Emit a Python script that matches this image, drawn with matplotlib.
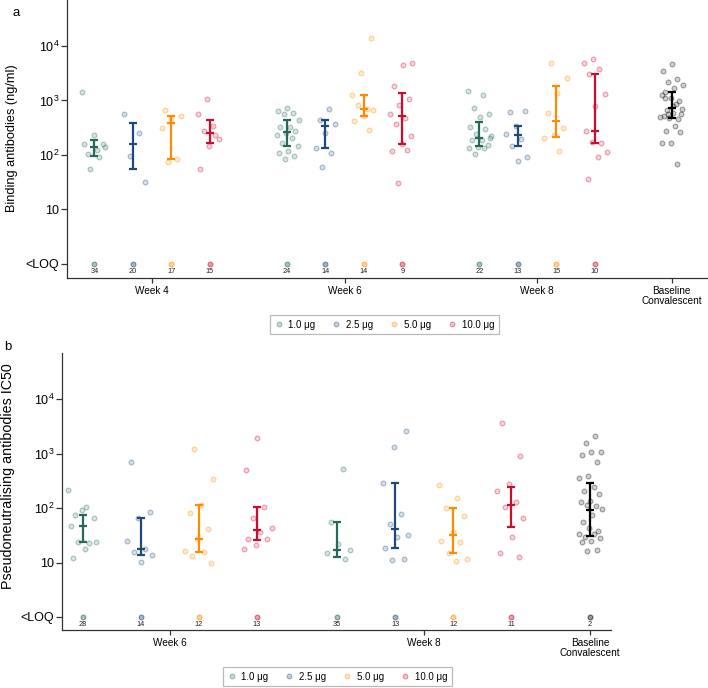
import numpy as np
import matplotlib
matplotlib.use("Agg")
import matplotlib.pyplot as plt
from matplotlib.lines import Line2D
from matplotlib.colors import to_rgba

plt.rcParams['font.family'] = ['Liberation Sans', 'DejaVu Sans']
plt.rcParams['mathtext.fontset'] = 'custom'
plt.rcParams['mathtext.rm'] = 'Liberation Sans'
plt.rcParams['mathtext.it'] = 'Liberation Sans:italic'

# ---------------- data ----------------
doses = ["1.0 μg", "2.5 μg", "5.0 μg", "10.0 μg"]
weeks_a = ["Week 4", "Week 6", "Week 8"]
weeks_b = ["Week 6", "Week 8"]
baseline_label = "Baseline\nConvalescent"

# Panel a: binding antibodies (ng/ml)
a_w4_d10 = [1450, 124, 105, 158, 230, 158, 91, 56, 140]
a_w4_d25 = [563, 251, 95, 32]
a_w4_d50 = [675, 510, 457, 313, 86, 75]
a_w4_d100 = [1070, 555, 345, 276, 199, 145, 56, 230]
a_w6_d10 = [724, 633, 586, 564, 440, 331, 323, 277, 250, 230, 201, 163, 146, 117, 111, 95, 86]
a_w6_d25 = [690, 440, 369, 250, 133, 110, 60]
a_w6_d50 = [13800, 3230, 1260, 690, 815, 661, 522, 424, 288]
a_w6_d100 = [4800, 4560, 1820, 1050, 830, 575, 468, 377, 226, 156, 118, 122, 30]
a_w8_d10 = [1490, 1240, 727, 575, 500, 330, 296, 240, 219, 190, 187, 151, 142, 132, 132, 106, 205]
a_w8_d25 = [618, 630, 339, 245, 199, 145, 92, 76]
a_w8_d50 = [4780, 2580, 1370, 590, 318, 231, 207, 120]
a_w8_d100 = [5800, 4800, 3720, 3000, 1320, 805, 270, 167, 173, 113, 92, 36]
a_base = [4700, 3500, 2500, 2170, 1940, 1700, 1410, 960, 1100, 1260, 870, 670, 575, 585,
          515, 460, 480, 500, 334, 270, 262, 167, 167, 69, 560, 710, 800, 1120]
# median, q1, q3 per group (week-major, dose-minor)
a_median = [138, 158, 380, 258, 262, 347, 690, 515, 205, 234, 428, 270]
a_q1 = [97, 55, 85, 169, 144, 133, 515, 158, 145, 145, 214, 167]
a_q3 = [190, 380, 510, 433, 440, 440, 1260, 1350, 406, 334, 1870, 3000]
a_base_stats = [725, 471, 1410]
a_loq_n = [34, 20, 17, 15, 24, 14, 14, 9, 22, 13, 15, 10]

# Panel b: pseudoneutralising antibodies IC50
b_w6_d10 = [218, 105, 74, 66, 94, 47, 23, 23.4, 24, 18, 12.3]
b_w6_d25 = [690, 85, 65, 24.4, 17.4, 15.5, 13.8, 10.3]
b_w6_d50 = [1230, 345, 112, 83, 42, 27, 16, 15.7, 13.2, 10]
b_w6_d100 = [1980, 500, 104, 65, 43, 36.6, 27, 27, 21.3, 17.7]
b_w8_d10 = [525, 56, 17, 21.5, 14.8, 11.5]
b_w8_d25 = [2560, 1350, 294, 78, 51.5, 32.5, 29.4, 18.6, 11.7, 11]
b_w8_d50 = [268, 155, 100, 72, 36.4, 25, 23.4, 14.8, 11.7, 10.7]
b_w8_d100 = [3700, 910, 275, 204, 132, 107, 67, 29.6, 15.2, 12.5]
b_base = [2130, 1550, 1060, 1060, 930, 700, 385, 357, 240, 210, 182, 137, 132, 110, 112,
          97, 74, 56, 38, 43, 33, 33.5, 29.5, 28, 24.6, 23.4, 17, 16.6]
b_median = [47, 17.4, 27, 40, 17, 41, 32, 112]
b_q1 = [23.5, 14, 15.5, 26.5, 12.9, 18.6, 14.8, 45]
b_q3 = [74, 65, 112, 104, 56, 294, 100, 240]
b_base_stats = [91, 31, 288]
b_loq_n = [28, 14, 12, 13, 35, 13, 12, 11]
b_base_loq_n = 2

# ---------------- styling ----------------
colors = ["#26695A", "#1E4A7A", "#FF8C00", "#C8102E"]
base_color = "#000000"
LOQ = 1.0

W, H = 708, 688
fig = plt.figure(figsize=(W / 100, H / 100), dpi=100)

def px_axes(l, t, r, b):
    return fig.add_axes([l / W, 1 - b / H, (r - l) / W, (b - t) / H])

axa = px_axes(67, 0, 708, 278)
axb = px_axes(62, 353, 611, 630)


def jitter(n, hw, phase=0.31):
    k = np.arange(n)
    return ((k * 0.6180339887 + phase) % 1 - 0.5) * 2 * hw


def draw_group(ax, x, vals, stats, n_loq, color, hw, phase):
    vals = np.asarray(vals, dtype=float)
    ax.scatter(x + jitter(len(vals), hw, phase), vals, s=12,
               facecolor=to_rgba(color, 0.18), edgecolor=to_rgba(color, 0.35),
               linewidths=0.8, zorder=2)
    med, q1, q3 = stats
    ax.plot([x, x], [q1, q3], color=color, lw=1.6, zorder=3, solid_capstyle='butt')
    ax.plot([x, x, x], [q1, med, q3], ls='', marker='_', ms=6, mew=1.6,
            color=color, zorder=3)
    if n_loq is not None:
        ax.scatter([x], [LOQ], s=12, facecolor=to_rgba(color, 0.4),
                   edgecolor=to_rgba(color, 0.55), linewidths=0.8, zorder=2)
        ax.annotate(str(n_loq), (x, LOQ), xytext=(0, -5.3), textcoords='offset points',
                    ha='center', va='center', fontsize=5.3, color='#222222')


def style_axis(ax, ylims, xlims, xticks, xlabels):
    ax.set_yscale('log')
    ax.set_ylim(*ylims)
    ax.set_xlim(*xlims)
    ax.set_yticks([1, 10, 100, 1000, 10000])
    ax.set_yticklabels(['<LOQ', '10', '$10^2$', '$10^3$', '$10^4$'], fontsize=9)
    ax.yaxis.set_minor_locator(matplotlib.ticker.NullLocator())
    ax.set_xticks(xticks)
    ax.set_xticklabels(xlabels, fontsize=7.2, linespacing=1.05)
    for s in ['top', 'right']:
        ax.spines[s].set_visible(False)
    for s in ['left', 'bottom']:
        ax.spines[s].set_color('#333333')
        ax.spines[s].set_linewidth(0.9)
    ax.tick_params(axis='y', length=4, width=0.9, color='#333333', pad=1.5)
    ax.tick_params(axis='x', length=3.5, width=0.9, color='#333333', pad=2)


# Panel a
a_groups = [[a_w4_d10, a_w4_d25, a_w4_d50, a_w4_d100],
            [a_w6_d10, a_w6_d25, a_w6_d50, a_w6_d100],
            [a_w8_d10, a_w8_d25, a_w8_d50, a_w8_d100]]
a_centers = [0, 5, 10]
a_base_x = 13.5
offsets = [-1.5, -0.5, 0.5, 1.5]
i = 0
for wi, c0 in enumerate(a_centers):
    for di in range(4):
        draw_group(axa, c0 + offsets[di], a_groups[wi][di],
                   (a_median[i], a_q1[i], a_q3[i]), a_loq_n[i], colors[di], 0.32, 0.13 * i)
        i += 1
draw_group(axa, a_base_x, a_base, a_base_stats, None, base_color, 0.3, 0.5)
style_axis(axa, (10 ** -0.257, 10 ** 4.844), (-2.21, 14.44),
           a_centers + [a_base_x], weeks_a + [baseline_label])

# Panel b
b_groups = [[b_w6_d10, b_w6_d25, b_w6_d50, b_w6_d100],
            [b_w8_d10, b_w8_d25, b_w8_d50, b_w8_d100]]
b_centers = [0, 4.38]
b_base_x = 7.24
i = 0
for wi, c0 in enumerate(b_centers):
    for di in range(4):
        draw_group(axb, c0 + offsets[di], b_groups[wi][di],
                   (b_median[i], b_q1[i], b_q3[i]), b_loq_n[i], colors[di], 0.26, 0.17 * i)
        i += 1
draw_group(axb, b_base_x, b_base, b_base_stats, b_base_loq_n, base_color, 0.21, 0.7)
style_axis(axb, (10 ** -0.239, 10 ** 4.85), (-1.86, 7.6),
           b_centers + [b_base_x], weeks_b + [baseline_label])

# Labels
fig.text(12 / W, 1 - 138 / H, "Binding antibodies (ng/ml)", rotation=90,
         ha='center', va='center', fontsize=9.2)
fig.text(8 / W, 1 - 476 / H, "Pseudoneutralising antibodies IC50", rotation=90,
         ha='center', va='center', fontsize=10.3)
fig.text(16 / W, 1 - 13 / H, "a", ha='center', va='center', fontsize=9.5)
fig.text(8 / W, 1 - 347 / H, "b", ha='center', va='center', fontsize=9.5)

# Legends
handles = [Line2D([], [], ls='', marker='o', ms=3.4,
                  mfc=to_rgba(c, 0.25), mec=to_rgba(c, 0.4), mew=0.8) for c in colors]
for (cx, cy) in [(384.5, 324.5), (337.5, 676.5)]:
    leg = fig.legend(handles, doses, loc='center', bbox_to_anchor=(cx / W, 1 - cy / H),
                     ncol=4, frameon=True, fancybox=False, fontsize=7,
                     handlelength=0.8, handletextpad=0.6, columnspacing=1.75,
                     borderpad=0.45, borderaxespad=0)
    leg.get_frame().set_edgecolor('#aaaaaa')
    leg.get_frame().set_linewidth(0.9)

fig.savefig("out.png", dpi=100)
